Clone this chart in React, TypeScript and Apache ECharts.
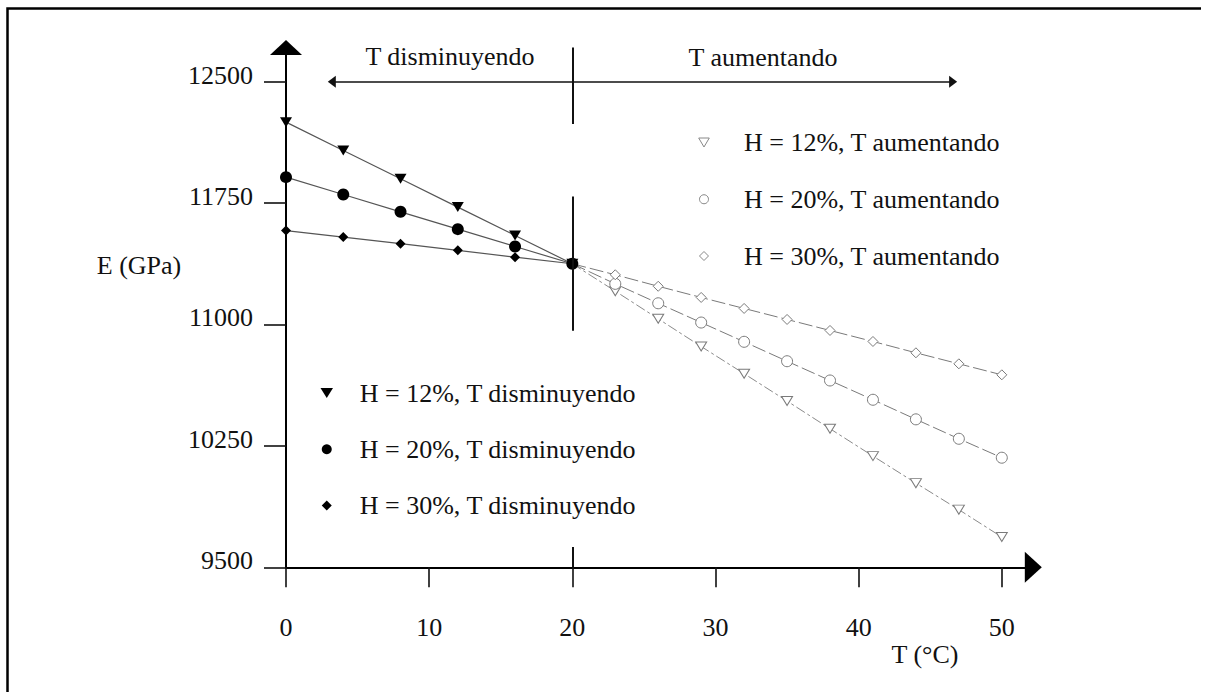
import React, { useEffect, useRef } from 'react';
import * as echarts from 'echarts';

// ---- data ----
const tDecreasing = [0, 4, 8, 12, 16, 20];
const eDec12 = [12250, 12075, 11900, 11725, 11550, 11375];
const eDec20 = [11910, 11803, 11696, 11589, 11482, 11375];
const eDec30 = [11580, 11540, 11499, 11458, 11416, 11375];

const tIncreasing = [20, 23, 26, 29, 32, 35, 38, 41, 44, 47, 50];
const eInc12 = [11375, 11206, 11035, 10864, 10696, 10527, 10356, 10187, 10020, 9856, 9687];
const eInc20 = [11375, 11251, 11131, 11012, 10893, 10773, 10654, 10535, 10414, 10294, 10177];
const eInc30 = [11375, 11307, 11236, 11167, 11099, 11031, 10963, 10895, 10825, 10757, 10689];

const xTicks = [0, 10, 20, 30, 40, 50];
const yTicks = [9500, 10250, 11000, 11750, 12500];

const nameDec12 = 'H = 12%, T disminuyendo';
const nameDec20 = 'H = 20%, T disminuyendo';
const nameDec30 = 'H = 30%, T disminuyendo';
const nameInc12 = 'H = 12%, T aumentando';
const nameInc20 = 'H = 20%, T aumentando';
const nameInc30 = 'H = 30%, T aumentando';

const labelDec = 'T disminuyendo';
const labelInc = 'T aumentando';
const yName = 'E (GPa)';
const xName = 'T (°C)';

// reference-line positions (in data units)
const splitT = 20;
const arrowY = 12500;
const arrowFromT = 3.2;
const arrowToT = 46.6;

const serif = "'Liberation Serif', 'Times New Roman', serif";
const triDown = 'path://M0,0 L12,0 L6,10 Z';
const diamond = 'path://M5,0 L10,5 L5,10 L0,5 Z';

const zip = (xs: number[], ys: number[]) => xs.map((x, i) => [x, ys[i]]);
const zipInc = (xs: number[], ys: number[]) =>
  xs.map((x, i) => (i === 0 ? { value: [x, ys[i]], symbol: 'none' } : [x, ys[i]]));

const X_MAX = 52.2;
const Y_MAX = 12711;

export default function App() {
  const ref = useRef<HTMLDivElement>(null);

  useEffect(() => {
    if (!ref.current) return;
    const chart = echarts.init(ref.current, null, { renderer: 'svg' });

    const solidLine = { color: '#555', width: 1.2, type: 'solid' as const };
    const filled = { color: '#000' };
    const hollow = { color: '#fff', borderColor: '#7a7a7a', borderWidth: 1 };
    const legendText = { fontFamily: serif, fontSize: 26, color: '#111', lineHeight: 26 };

    const option: any = {
      animation: false,
      backgroundColor: '#fff',
      grid: { left: 286, right: 172.7, top: 47.5, bottom: 124.7, containLabel: false, outerBoundsMode: 'none' },
      xAxis: {
        type: 'value',
        min: 0,
        max: X_MAX,
        interval: 10,
        axisLine: {
          show: true,
          onZero: false,
          lineStyle: { color: '#000', width: 2 },
          symbol: ['none', 'triangle'],
          symbolSize: [31, 17],
        },
        axisTick: { show: true, length: 20, lineStyle: { color: '#111', width: 1.6 }, customValues: xTicks },
        axisLabel: {
          customValues: xTicks,
          margin: 47,
          fontSize: 26,
          fontFamily: serif,
          color: '#111',
          formatter: (v: number) => String(v),
        },
        splitLine: { show: false },
      },
      yAxis: {
        type: 'value',
        min: 9500,
        max: Y_MAX,
        interval: 750,
        axisLine: {
          show: true,
          onZero: false,
          lineStyle: { color: '#000', width: 2 },
          symbol: ['none', 'triangle'],
          symbolSize: [32, 15],
        },
        axisTick: { show: true, length: 22, lineStyle: { color: '#111', width: 1.6 }, customValues: yTicks },
        axisLabel: {
          customValues: yTicks,
          margin: 33,
          fontSize: 26,
          fontFamily: serif,
          color: '#111',
          verticalAlign: 'bottom',
          lineHeight: 13,
          formatter: (v: number) => String(v),
        },
        splitLine: { show: false },
      },
      legend: [
        {
          orient: 'vertical',
          left: 698.2,
          top: 129.5,
          padding: 0,
          itemWidth: 70,
          itemHeight: 9,
          itemGap: 30.75,
          selectedMode: false,
          textStyle: legendText,
          data: [
            { name: nameInc12, icon: 'path://M0,0 L10,0 L5,8.5 Z', itemStyle: { color: '#fff', borderColor: '#888', borderWidth: 1 } },
            { name: nameInc20, icon: 'circle', itemStyle: { color: '#fff', borderColor: '#888', borderWidth: 1 } },
            { name: nameInc30, icon: 'path://M4.5,0 L9,4.5 L4.5,9 L0,4.5 Z', itemStyle: { color: '#fff', borderColor: '#888', borderWidth: 1 } },
          ],
        },
        {
          orient: 'vertical',
          left: 320.5,
          top: 380,
          padding: 0,
          itemWidth: 56,
          itemHeight: 10,
          itemGap: 30.25,
          selectedMode: false,
          textStyle: legendText,
          data: [
            { name: nameDec12, icon: 'path://M0,0 L10,0 L5,8 Z', itemStyle: { color: '#000', borderWidth: 0 } },
            { name: nameDec20, icon: 'circle', itemStyle: { color: '#000', borderWidth: 0 } },
            { name: nameDec30, icon: 'path://M4.5,0 L9,4.5 L4.5,9 L0,4.5 Z', itemStyle: { color: '#000', borderWidth: 0 } },
          ],
        },
      ],
      series: [
        {
          type: 'line',
          name: nameInc12,
          data: zipInc(tIncreasing, eInc12),
          symbol: triDown,
          symbolSize: [11, 9],
          lineStyle: { color: '#8a8a8a', width: 1, type: [10, 3, 3, 3] },
          itemStyle: hollow,
          z: 2,
        },
        {
          type: 'line',
          name: nameInc20,
          data: zipInc(tIncreasing, eInc20),
          symbol: 'circle',
          symbolSize: 11,
          lineStyle: { color: '#7a7a7a', width: 1, type: [14, 4] },
          itemStyle: hollow,
          z: 2,
        },
        {
          type: 'line',
          name: nameInc30,
          data: zipInc(tIncreasing, eInc30),
          symbol: diamond,
          symbolSize: 10,
          lineStyle: { color: '#7a7a7a', width: 1, type: [14, 4] },
          itemStyle: hollow,
          z: 2,
        },
        {
          type: 'line',
          name: nameDec12,
          data: zip(tDecreasing, eDec12),
          symbol: triDown,
          symbolSize: [12, 10],
          lineStyle: solidLine,
          itemStyle: filled,
          z: 3,
          markLine: {
            silent: true,
            symbol: 'none',
            label: { show: false },
            lineStyle: { color: '#111', width: 2, type: 'solid' },
            data: [
              [{ coord: [splitT, Y_MAX] }, { coord: [splitT, 12239] }],
              [{ coord: [splitT, 11790] }, { coord: [splitT, 10962] }],
              [{ coord: [splitT, 9500] }, { coord: [splitT, 9625] }],
            ],
          },
        },
        {
          type: 'line',
          name: nameDec20,
          data: zip(tDecreasing, eDec20),
          symbol: 'circle',
          symbolSize: 12,
          lineStyle: solidLine,
          itemStyle: filled,
          z: 3,
          markLine: {
            silent: true,
            symbol: ['triangle', 'triangle'],
            symbolSize: [12, 8],
            label: { show: false },
            lineStyle: { color: '#111', width: 1.6, type: 'solid' },
            itemStyle: { color: '#111' },
            data: [[{ coord: [arrowFromT, arrowY] }, { coord: [arrowToT, arrowY] }]],
          },
        },
        {
          type: 'line',
          name: nameDec30,
          data: zip(tDecreasing, eDec30),
          symbol: diamond,
          symbolSize: 10,
          lineStyle: solidLine,
          itemStyle: filled,
          z: 3,
        },
      ],
      graphic: [
        {
          type: 'polyline',
          silent: true,
          shape: { points: [[7.5, 692], [7.5, 8.5], [1201, 8.5]] },
          style: { stroke: '#000', lineWidth: 2.5, fill: null },
        },
        {
          type: 'text',
          x: 450,
          y: 56,
          style: { text: labelDec, fontSize: 26, fontFamily: serif, fill: '#111', align: 'center', verticalAlign: 'middle' },
        },
        {
          type: 'text',
          x: 763,
          y: 57,
          style: { text: labelInc, fontSize: 26, fontFamily: serif, fill: '#111', align: 'center', verticalAlign: 'middle' },
        },
        {
          type: 'text',
          x: 139,
          y: 265,
          style: { text: yName, fontSize: 26, fontFamily: serif, fill: '#111', align: 'center', verticalAlign: 'middle' },
        },
        {
          type: 'text',
          x: 925,
          y: 654,
          style: { text: xName, fontSize: 26, fontFamily: serif, fill: '#111', align: 'center', verticalAlign: 'middle' },
        },
      ],
    };

    chart.setOption(option);
    return () => chart.dispose();
  }, []);

  return (
    <div
      ref={ref}
      style={{ position: 'absolute', left: 0, top: 0, width: 1206, height: 692, background: '#fff' }}
    />
  );
}
